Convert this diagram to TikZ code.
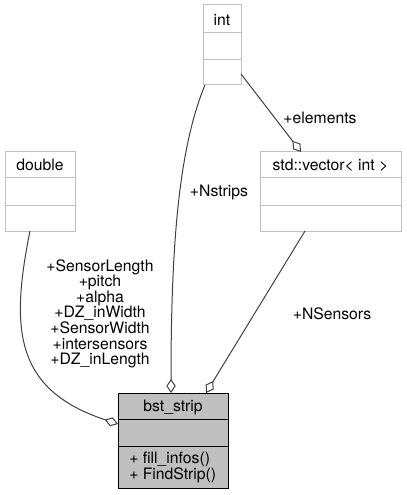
\documentclass[tikz,border=0pt]{standalone}
\usepackage{fontspec}
\setmainfont{TeX Gyre Heros}
\usetikzlibrary{arrows.meta}
\definecolor{boxgrey}{HTML}{BFBFBF}
\definecolor{edgegrey}{HTML}{404040}
\tikzset{
	classbox/.style = {draw = boxgrey, line width = 0.75pt},
	mainbox/.style = {draw = black, fill = boxgrey, line width = 0.75pt},
	member/.style = {-{Diamond[open, length = 10.5pt, width = 7pt]}, draw = edgegrey, line width = 0.75pt},
	lbl/.style = {inner sep = 0pt, font = \fontsize{11.8}{11.7}\selectfont}
}
\begin{document}
\begin{tikzpicture}[x = 0.75pt, y = -0.75pt]
		\useasboundingbox (0,0) rectangle (406,495);
		\draw[classbox] (203,5) rectangle (241,85);
		\draw[classbox] (203,33) -- (241,33) (203,60) -- (241,60);
		\node[lbl, anchor = base] (int) at (222,26) {int};
		\draw[classbox] (5,152) rectangle (75,231);
		\draw[classbox] (5,178) -- (75,178) (5,205) -- (75,205);
		\node[lbl, anchor = base] (double) at (40,171) {double};
		\draw[classbox] (260,152) rectangle (401,231);
		\draw[classbox] (260,178) -- (401,178) (260,205) -- (401,205);
		\node[lbl, anchor = base] (vector) at (330.5,171) {std::vector< int >};
		\draw[mainbox] (118,393) rectangle (228,488);
		\draw[mainbox] (118,419) -- (228,419) (118,446) -- (228,446);
		\node[lbl, anchor = base] (strip) at (173,411) {bst\_strip};
		\node[lbl, anchor = base west] (fill) at (129,463) {+ fill\_infos()};
		\node[lbl, anchor = base west] (find) at (129,479) {+ FindStrip()};
		\coordinate (int-s) at (205,85);
		\coordinate (int-e) at (241,74);
		\coordinate (double-s) at (30,231);
		\coordinate (vector-n) at (301,152);
		\coordinate (vector-s) at (305,231);
		\coordinate (strip-n1) at (171,393);
		\coordinate (strip-n2) at (206,393);
		\coordinate (strip-w) at (118,424);
		\draw[member] (int-s) .. controls (178,150) and (171,250) .. (strip-n1);
		\draw[member] (vector-s) -- (strip-n2);
		\draw[member] (double-s) .. controls (10,330) and (15,390) .. (strip-w);
		\draw[member] (int-e) -- (vector-n);
		\node[lbl, anchor = base] (nstrips) at (219,196) {+Nstrips};
		\node[lbl, anchor = base] (elements) at (320,124) {+elements};
		\node[lbl, anchor = base] (nsensors) at (332,319) {+NSensors};
		\node[lbl, align = center, anchor = north] (members) at (100,259) {+SensorLength\\+pitch\\+alpha\\+DZ\_inWidth\\+SensorWidth\\+intersensors\\+DZ\_inLength};
	\end{tikzpicture}
\end{document}
